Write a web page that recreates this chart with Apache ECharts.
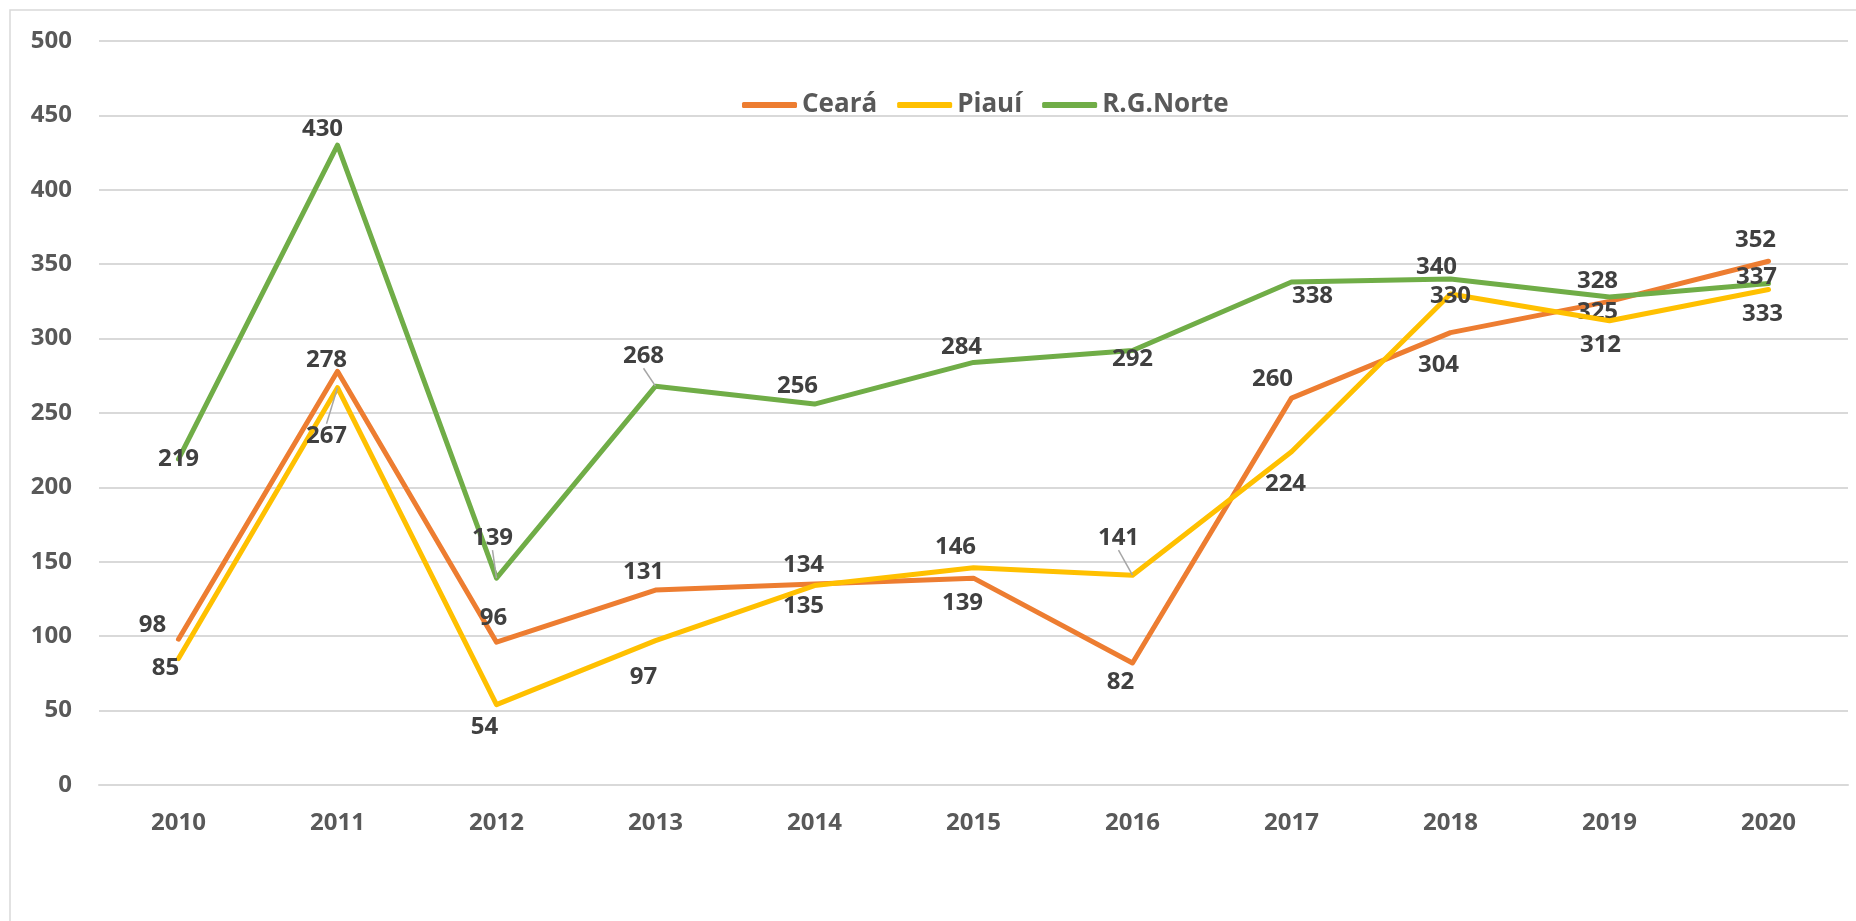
<!DOCTYPE html>
<html>
<head>
<meta charset="utf-8">
<script src="https://cdn.jsdelivr.net/npm/echarts@6/dist/echarts.min.js"></script>
<style>
html,body{margin:0;padding:0;background:#fff;}
#chart{width:1856px;height:921px;}
</style>
</head>
<body>
<div id="chart"></div>
<script>
// ---- data ----
const years = ['2010','2011','2012','2013','2014','2015','2016','2017','2018','2019','2020'];
const ceara = [98, 278, 96, 131, 135, 139, 82, 260, 304, 325, 352];
const piaui = [85, 267, 54, 97, 134, 146, 141, 224, 330, 312, 333];
const rgNorte = [219, 430, 139, 268, 256, 284, 292, 338, 340, 328, 337];
const seriesNames = ['Ceará', 'Piauí', 'R.G.Norte'];

// ---- label placement (offsets of each value label from its point, px) ----
const cearaLabelOffsets = [[-26,-14],[-11,-11],[-3,-24],[-12,-18],[-11,22],[-11,25],[-12,19],[-19,-19],[-12,33],[-12,11],[-13,-21]];
const piauiLabelOffsets = [[-13,10],[-11,48],[-12,23],[-12,36],[-11,-20],[-18,-21],[-14,-37],[-6,32],[0,2],[-9,24],[-6,25]];
const rgNorteLabelOffsets = [[0,0],[-15,-16],[-4,-40],[-12,-30],[-17,-18],[-12,-15],[0,9],[21,14],[-14,-12],[-12,-16],[-12,-6]];
const leaderLines = { 0: [], 1: [1, 6], 2: [2, 3] };

const colors = ['#ED7D31', '#FFC000', '#70AD47'];
const offsets = [cearaLabelOffsets, piauiLabelOffsets, rgNorteLabelOffsets];
const values = [ceara, piaui, rgNorte];
const FONT = "'Open Sans', 'Noto Sans', sans-serif";

const chart = echarts.init(document.getElementById('chart'), null, {renderer: 'canvas'});

const series = values.map((vals, si) => ({
  name: seriesNames[si],
  type: 'line',
  data: vals.map((v, i) => ({
    value: v,
    labelLine: { show: leaderLines[si].indexOf(i) >= 0, lineStyle: { color: '#a6a6a6', width: 1.5 } }
  })),
  symbol: 'circle',
  symbolSize: 0.1,
  showSymbol: true,
  color: colors[si],
  lineStyle: { width: 5, color: colors[si], cap: 'round', join: 'round' },
  itemStyle: { color: colors[si] },
  emphasis: { disabled: true },
  animation: false,
  z: 2 + si,
  label: {
    show: true,
    position: 'inside',
    align: 'center',
    verticalAlign: 'middle',
    fontSize: 24,
    fontWeight: 'bold',
    fontFamily: FONT,
    color: '#404040'
  },
  labelLayout: function (p) {
    const o = offsets[si][p.dataIndex];
    return { dx: o[0], dy: o[1] };
  }
}));

chart.setOption({
  backgroundColor: '#ffffff',
  animation: false,
  graphic: [{
    type: 'rect',
    shape: { x: 10, y: 10, width: 2000, height: 2000 },
    style: { fill: 'none', stroke: '#d9d9d9', lineWidth: 1.5 },
    silent: true, z: -1
  }],
  legend: {
    data: seriesNames,
    left: 737,
    top: 87,
    itemWidth: 55,
    itemHeight: 6,
    itemGap: 20,
    icon: 'roundRect',
    textStyle: { fontSize: 26, fontWeight: 'bold', fontFamily: FONT, color: '#595959' }
  },
  grid: { left: 99, right: 8, top: 41, bottom: 136, containLabel: false },
  xAxis: {
    type: 'category',
    data: years,
    boundaryGap: true,
    axisLine: { show: true, lineStyle: { color: '#d9d9d9', width: 2 } },
    axisTick: { show: false },
    axisLabel: { margin: 26, fontSize: 24, fontWeight: 'bold', fontFamily: FONT, color: '#595959' },
    splitLine: { show: false }
  },
  yAxis: {
    type: 'value',
    min: 0,
    max: 500,
    interval: 50,
    axisLine: { show: false },
    axisTick: { show: false },
    axisLabel: { margin: 27, fontSize: 24, fontWeight: 'bold', fontFamily: FONT, color: '#595959' },
    splitLine: { show: true, lineStyle: { color: '#d9d9d9', width: 2 } }
  },
  series: series
});
</script>
</body>
</html>
